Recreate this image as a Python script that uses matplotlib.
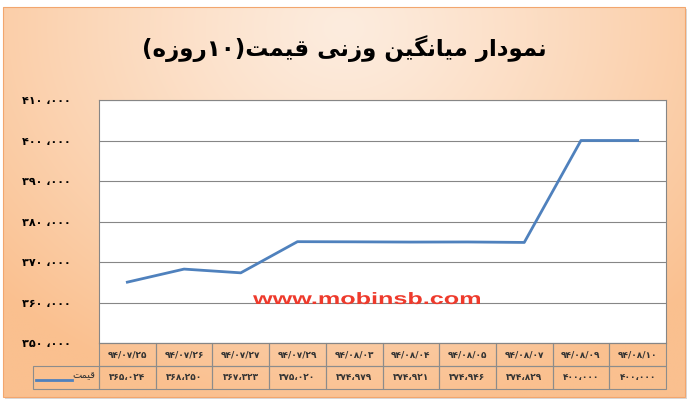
import re
import numpy as np
import matplotlib
matplotlib.use('Agg')
import matplotlib.pyplot as plt
import matplotlib.transforms as mtransforms
from matplotlib.patches import Rectangle, PathPatch
from matplotlib.textpath import TextPath
from matplotlib.font_manager import FontProperties

# data
dates = ['94/07/25', '94/07/26', '94/07/27', '94/07/29', '94/08/03',
         '94/08/04', '94/08/05', '94/08/07', '94/08/09', '94/08/10']
prices = [365024, 368250, 367323, 375020, 374979,
          374921, 374946, 374829, 400000, 400000]
yticks = list(range(350000, 410001, 10000))
title = 'نمودار میانگین وزنی قیمت(۱۰روزه)'
series_name = 'قیمت'
watermark = 'www.mobinsb.com'

FA_DIGITS = str.maketrans('0123456789', '۰۱۲۳۴۵۶۷۸۹')


def fa_num(v, sep='،'):
    return f'{v:,}'.replace(',', sep).translate(FA_DIGITS)


# matplotlib does no arabic shaping, so pick the joined forms by hand
FORMS = {
    'ا': ('\ufe8d', '\ufe8e', None, None),
    'د': ('\ufea9', '\ufeaa', None, None),
    'ر': ('\ufead', '\ufeae', None, None),
    'ز': ('\ufeaf', '\ufeb0', None, None),
    'و': ('\ufeed', '\ufeee', None, None),
    'ت': ('\ufe95', '\ufe96', '\ufe97', '\ufe98'),
    'ق': ('\ufed5', '\ufed6', '\ufed7', '\ufed8'),
    'م': ('\ufee1', '\ufee2', '\ufee3', '\ufee4'),
    'ن': ('\ufee5', '\ufee6', '\ufee7', '\ufee8'),
    'ه': ('\ufee9', '\ufeea', '\ufeeb', '\ufeec'),
    'ی': ('\ufbfc', '\ufbfd', '\ufbfe', '\ufbff'),
    'گ': ('\ufb92', '\ufb93', '\ufb94', '\ufb95'),
}


def shape(s):
    out = []
    for i, c in enumerate(s):
        if c not in FORMS:
            out.append(c)
            continue
        prev = s[i - 1] if i > 0 else ''
        nxt = s[i + 1] if i + 1 < len(s) else ''
        pj = prev in FORMS and FORMS[prev][2] is not None
        nj = nxt in FORMS and FORMS[c][2] is not None
        iso, fin, ini, med = FORMS[c]
        out.append(med if (pj and nj) else fin if pj else ini if nj else iso)
    vis = ''.join(out)[::-1].translate(str.maketrans('()', ')('))
    return re.sub('[۰-۹]+', lambda m: m.group()[::-1], vis)


W, H = 690, 403
fig = plt.figure(figsize=(W / 100, H / 100), dpi=100)

# orange gradient background of the chart frame
bg = fig.add_axes([0, 0, 1, 1])
bg.axis('off')
light = np.array([253, 236, 222]) / 255
dark = np.array([250, 192, 143]) / 255
gx, gy = np.meshgrid(np.linspace(0, 1, 200), np.linspace(0, 1, 120))
d = np.clip(np.sqrt(((gx - 0.5) / 0.7) ** 2 + ((gy - 0.05) / 1.0) ** 2), 0, 1) ** 1.2
img = light + (dark - light) * d[..., None]
bg.add_patch(Rectangle((5, 9), 682, 390, facecolor='#d9d9d9', edgecolor='none', zorder=0))
bg.imshow(img, extent=(3, 685, 397, 7), aspect='auto', interpolation='bilinear', zorder=1)
bg.add_patch(Rectangle((3, 7), 682, 390, fill=False, edgecolor='#f2a66e', lw=0.8, zorder=2))
bg.set_xlim(0, W)
bg.set_ylim(H, 0)

fig.text(344 / W, 1 - 49 / H, shape(title), ha='center', va='center',
         fontsize=16.5, fontweight='bold', family='DejaVu Sans')

ax = fig.add_axes([99 / W, 1 - 343 / H, 567 / W, 243 / H])
ax.set_facecolor('white')
x = np.arange(len(prices))
ax.plot(x, prices, color='#4f81bd', lw=2.0, solid_joinstyle='round')
ax.set_xlim(-0.5, len(prices) - 0.5)
ax.set_ylim(350000, 410000)
ax.set_yticks(yticks)
ax.set_yticklabels([fa_num(v, ' ،') for v in yticks], fontsize=8, fontweight='bold')
ax.tick_params(axis='y', length=0, pad=20)
ax.set_xticks([])
ax.grid(axis='y', color='#868686', lw=0.8)
ax.set_axisbelow(True)
for sp in ax.spines.values():
    sp.set_color('#868686')
    sp.set_linewidth(0.8)

# data table under the plot
tr = mtransforms.blended_transform_factory(ax.transData, ax.transAxes)
rh = 23 / 243
grey = '#8c8c8c'
for i, (dt, p) in enumerate(zip(dates, prices)):
    for r, txt in enumerate([dt.translate(FA_DIGITS), fa_num(p)]):
        ax.add_patch(Rectangle((i - 0.5, -rh * (r + 1)), 1, rh, transform=tr,
                               fill=False, edgecolor=grey, lw=0.8, clip_on=False))
        ax.text(i, -rh * (r + 0.5), txt, transform=tr, ha='center', va='center',
                fontsize=6.5, fontweight='bold', color='#333333', clip_on=False)
lw_cell = 66 / 56.7
ax.add_patch(Rectangle((-0.5 - lw_cell, -2 * rh), lw_cell, rh, transform=tr,
                       fill=False, edgecolor=grey, lw=0.8, clip_on=False))
ax.plot([-0.5 - lw_cell + 0.05, -0.5 - lw_cell + 0.68], [-1.62 * rh, -1.62 * rh],
        transform=tr, color='#4f81bd', lw=2.0, clip_on=False)
ax.text(-0.5 - lw_cell + 0.70, -1.4 * rh, shape(series_name), transform=tr,
        ha='left', va='center', fontsize=7, color='#333333', clip_on=False)

# stretched red watermark
fp = FontProperties(family='Liberation Sans', weight='bold')
tp = TextPath((0, 0), watermark, size=16.5, prop=fp)
ext = tp.get_extents()
sx = 227 / ext.width
wm_tr = (mtransforms.Affine2D().translate(-ext.x0, 0).scale(sx / W, 1 / H)
         .translate(253 / W, (H - 304) / H) + fig.transFigure)
fig.add_artist(PathPatch(tp, transform=wm_tr, facecolor='#ee3a2c',
                         edgecolor='none', zorder=10))

fig.savefig('out.png', dpi=100)
